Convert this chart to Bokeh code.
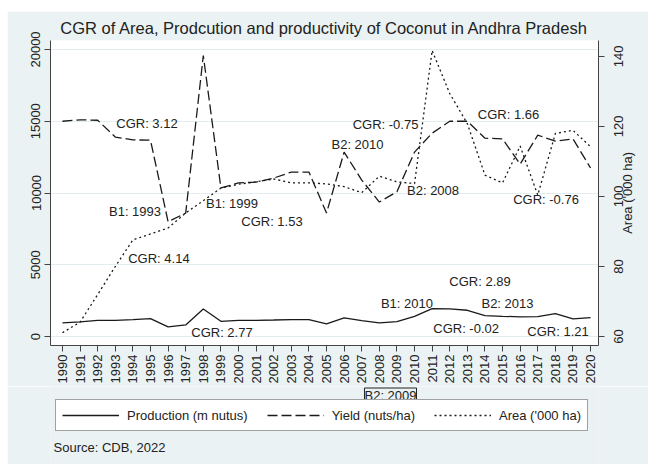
import math
from bokeh.plotting import figure
from bokeh.layouts import column
from bokeh.models import (Range1d, LinearAxis, FixedTicker, Label, Legend, LegendItem,
                          CustomJSTickFormatter)
from bokeh.core.properties import value
from bokeh.embed import file_html
from bokeh.resources import INLINE

years = list(range(1990, 2021))
production = [950, 1020, 1130, 1130, 1180, 1250, 670, 810, 1920, 1060, 1130, 1130, 1150,
              1180, 1180, 880, 1300, 1110, 950, 1040, 1410, 1940, 1920, 1830, 1460, 1410,
              1370, 1390, 1600, 1230, 1320]
yield_nuts = [15000, 15100, 15070, 13900, 13700, 13680, 8000, 8600, 19580, 10350, 10700,
              10760, 11040, 11460, 11460, 8600, 12850, 10900, 9370, 10090, 12850, 14170,
              15000, 15000, 13820, 13770, 12010, 14030, 13610, 13770, 11740]
area = [61.1, 64.1, 72.0, 80.0, 87.6, 89.3, 91.0, 95.3, 98.8, 102.4, 103.5, 104.2, 105.0,
        103.9, 103.9, 103.6, 102.8, 101.1, 105.8, 104.2, 103.7, 141.7, 129.4, 120.8, 106.1,
        103.9, 114.4, 100.4, 118.0, 118.9, 114.2]

left_ticks = [0, 5000, 10000, 15000, 20000]
right_ticks = [60, 80, 100, 120, 140]
right_title = "Area ('000 ha)"

ann_text = ["CGR: 3.12", "B1: 1993", "B1: 1999", "CGR: 1.53", "CGR: 4.14", "CGR: 2.77",
            "B2: 2010", "CGR: -0.75", "B2: 2008", "CGR: 1.66", "CGR: -0.76", "CGR: 2.89",
            "B1: 2010", "B2: 2013", "CGR: -0.02", "CGR: 1.21"]
ann_x = [1994.8, 1994.12, 1999.63, 2001.9, 1995.48, 1999.06, 2006.76, 2008.35, 2011.05,
         2015.34, 2017.47, 2013.72, 2009.57, 2015.28, 2012.93, 2018.15]
ann_y = [14860, 8680, 9300, 7990, 5420, 280, 13400, 14790, 10140, 15490, 9580, 3820,
         2290, 2290, 560, 350]

legend_labels = ["Production (m nutus)", "Yield (nuts/ha)", "Area ('000 ha)"]
line_dashes = ["solid", "10 4", "2 3"]

FONT = "Liberation Sans"
INK = "#1a1a1a"
TXT = "#222222"
BG = "#EAF2F3"
FRAME_H = 306
AREA_RANGE = (57.44, 144.56)

p = figure(width=641, height=375, output_backend="svg", toolbar_location=None,
           x_range=Range1d(1989.32, 2020.45), y_range=Range1d(-625, 20625),
           min_border_left=43, min_border_right=50, min_border_top=29, min_border_bottom=40)
p.extra_y_ranges = {"area": Range1d(*AREA_RANGE)}
p.border_fill_color = BG
p.background_fill_color = "white"
p.outline_line_color = None

p.title.text = "CGR of Area, Prodcution and productivity of Coconut in Andhra Pradesh"
p.title.text_font = FONT
p.title.text_font_size = "16.5px"
p.title.text_font_style = "normal"
p.title.text_color = TXT
p.title.align = "center"
p.title.standoff = 8

r_prod = p.line(years, production, line_color=INK, line_width=1.3, line_dash=line_dashes[0])
r_yield = p.line(years, yield_nuts, line_color=INK, line_width=1.3, line_dash=line_dashes[1])
r_area = p.line(years, area, line_color=INK, line_width=1.3, line_dash=line_dashes[2],
                y_range_name="area")

p.text(x=ann_x, y=ann_y, text=ann_text, text_font=value(FONT), text_font_size="13px",
       text_color=TXT, text_align="center", text_baseline="middle")

p.xaxis.ticker = FixedTicker(ticks=years)
p.yaxis.ticker = FixedTicker(ticks=left_ticks)
for ax in [p.xaxis[0], p.yaxis[0]]:
    ax.major_label_text_font = FONT
    ax.major_label_text_font_size = "13px"
    ax.major_label_text_color = TXT
    ax.axis_line_color = "#444444"
    ax.major_tick_line_color = "#444444"
    ax.major_tick_out = 6
    ax.major_tick_in = 0
    ax.minor_tick_line_color = None
p.xaxis.major_label_orientation = math.pi / 2
p.xaxis.major_label_standoff = 3
p.yaxis.major_label_orientation = "vertical"
p.yaxis.major_label_standoff = 4

# right axis: rotated labels are anchored at their start, so place each label's
# anchor half a label-length below its tick and draw the real ticks as minor ticks
px_per_unit = FRAME_H / (AREA_RANGE[1] - AREA_RANGE[0])
label_pos = [v - (len(str(v)) * 0.556 * 13 / 2) / px_per_unit for v in right_ticks]
rax = LinearAxis(y_range_name="area",
                 ticker=FixedTicker(ticks=label_pos, minor_ticks=right_ticks),
                 formatter=CustomJSTickFormatter(code="return String(Math.round(tick / 20) * 20)"))
rax.major_label_text_font = FONT
rax.major_label_text_font_size = "13px"
rax.major_label_text_color = TXT
rax.axis_line_color = "#444444"
rax.major_tick_line_color = None
rax.major_tick_out = 6
rax.major_tick_in = 0
rax.minor_tick_line_color = "#444444"
rax.minor_tick_out = 6
rax.minor_tick_in = 0
rax.major_label_orientation = math.pi / 2
rax.major_label_standoff = 14
p.add_layout(rax, "right")

# right axis title as a single centred rotated label on a bare axis
title_len_px = 82
title_pos = (AREA_RANGE[0] + AREA_RANGE[1]) / 2 - (title_len_px / 2) / px_per_unit
tax = LinearAxis(y_range_name="area", ticker=FixedTicker(ticks=[title_pos]),
                 formatter=CustomJSTickFormatter(code='return "%s"' % right_title))
tax.major_label_text_font = FONT
tax.major_label_text_font_size = "13px"
tax.major_label_text_color = TXT
tax.axis_line_color = None
tax.major_tick_line_color = None
tax.minor_tick_line_color = None
tax.major_tick_out = 0
tax.major_tick_in = 0
tax.major_label_orientation = math.pi / 2
tax.major_label_standoff = -3
p.add_layout(tax, "right")

p.xgrid.grid_line_color = None
p.ygrid.ticker = FixedTicker(ticks=left_ticks)
p.ygrid.grid_line_color = "#E3ECEF"
p.ygrid.grid_line_width = 1

# lower strip: boxed break note, legend, source (x in page pixels of the frame span)
p2 = figure(width=641, height=78, output_backend="svg", toolbar_location=None,
            x_range=Range1d(50, 598), y_range=Range1d(78, 0),
            min_border=0, min_border_left=43, min_border_right=50,
            x_axis_type=None, y_axis_type=None)
p2.border_fill_color = BG
p2.background_fill_color = BG
p2.outline_line_color = None

d_rs = [p2.line(x=[0, 1], y=[-100, -100], line_color=INK, line_width=1.3, line_dash=d)
        for d in line_dashes]

legend = Legend(items=[LegendItem(label=lab, renderers=[r]) for lab, r in zip(legend_labels, d_rs)],
                orientation="horizontal", location=(5, 33))
legend.label_text_font = FONT
legend.label_text_font_size = "13px"
legend.label_text_color = TXT
legend.glyph_width = 57
legend.glyph_height = 18
legend.label_height = 18
legend.label_standoff = 8
legend.spacing = 19
legend.padding = 6
legend.margin = 0
legend.border_line_color = "#444444"
legend.border_line_width = 1
legend.background_fill_color = "white"
legend.background_fill_alpha = 1
p2.add_layout(legend)

p2.add_layout(Label(x=390, y=9, text="B2: 2009", text_font=FONT, text_font_size="13px",
                    text_color=TXT, text_align="center", text_baseline="middle",
                    border_line_color=TXT, border_line_width=1, padding=0,
                    background_fill_color=BG, level="overlay"))
p2.add_layout(Label(x=53, y=60.5, text="Source: CDB, 2022", text_font=FONT,
                    text_font_size="13px", text_color=TXT, text_align="left",
                    text_baseline="middle"))

layout = column(p, p2, spacing=0, styles={"margin-left": "7px", "margin-top": "11px"})
open("out.html", "w").write(file_html(layout, INLINE))
